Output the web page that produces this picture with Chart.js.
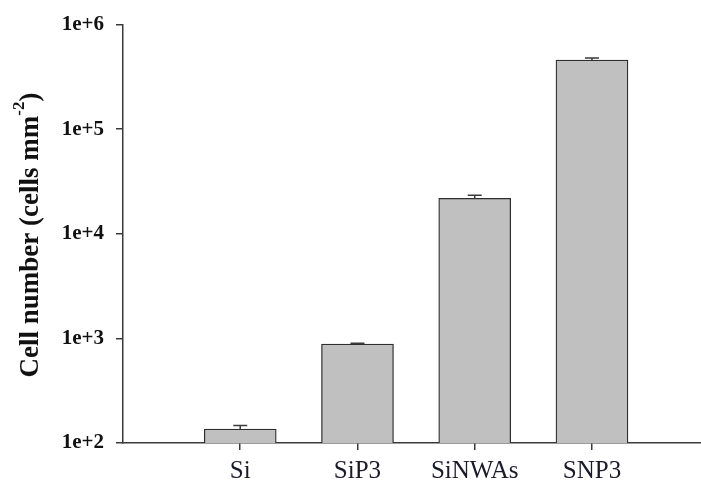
<!DOCTYPE html>
<html>
<head>
<meta charset="utf-8">
<script src="https://cdn.jsdelivr.net/npm/chart.js@4/dist/chart.umd.min.js"></script>
<style>
  html, body { margin: 0; padding: 0; background: #fff; overflow: hidden; }
  #box { width: 701px; height: 482px; position: relative; }
</style>
</head>
<body>
<div id="box"><canvas id="grafico"></canvas></div>
<script>
// dados (escala log)
const categorias = ["Si", "SiP3", "SiNWAs", "SNP3"];
const posicoes   = [1, 2, 3, 4];
const valores    = [136, 883, 21800, 459000];
const erros      = [11, 18, 1500, 21000];   // barra de erro superior
const ticksY     = [1e2, 1e3, 1e4, 1e5, 1e6];

const COR_EIXO = "#3a3a3a";

// barras de erro desenhadas por cima das barras
const pluginErros = {
  id: "erros",
  afterDatasetsDraw(chart) {
    const ctx = chart.ctx;
    const meta = chart.getDatasetMeta(0);
    const y = chart.scales.y;
    ctx.save();
    ctx.strokeStyle = COR_EIXO;
    ctx.lineWidth = 1.5;
    meta.data.forEach((barra, i) => {
      const topo = y.getPixelForValue(valores[i]);
      const fim  = y.getPixelForValue(valores[i] + erros[i]);
      ctx.beginPath();
      ctx.moveTo(barra.x, topo);
      ctx.lineTo(barra.x, fim);
      ctx.moveTo(barra.x - 7, fim);
      ctx.lineTo(barra.x + 7, fim);
      ctx.stroke();
    });
    ctx.restore();
  }
};

// título do eixo Y com expoente sobrescrito
const pluginTitulo = {
  id: "tituloY",
  afterDraw(chart) {
    const ctx = chart.ctx;
    const partes = [
      { t: "Cell number (cells mm", f: "bold 27px 'Liberation Serif'", dy: 0 },
      { t: "-2", f: "bold 17px 'Liberation Serif'", dy: -11 },
      { t: ")", f: "bold 27px 'Liberation Serif'", dy: 0 },
    ];
    ctx.save();
    let total = 0;
    partes.forEach(p => { ctx.font = p.f; p.w = ctx.measureText(p.t).width; total += p.w; });
    ctx.translate(31, 235);
    ctx.rotate(-Math.PI / 2);
    ctx.fillStyle = "#111";
    ctx.textBaseline = "middle";
    let x = -total / 2;
    partes.forEach(p => {
      ctx.font = p.f;
      ctx.fillText(p.t, x, p.dy);
      x += p.w;
    });
    ctx.restore();
  }
};

new Chart(document.getElementById("grafico"), {
  type: "bar",
  data: {
    datasets: [{
      data: valores.map((v, i) => ({ x: posicoes[i], y: v })),
      backgroundColor: "#c0c0c0",
      borderColor: "#2e2e2e",
      borderWidth: 1.3,
      borderSkipped: "bottom",
      barThickness: 72,
    }]
  },
  options: {
    responsive: true,
    maintainAspectRatio: false,
    animation: false,
    layout: { padding: { top: 20, right: 0, left: 0, bottom: 0 } },
    plugins: {
      legend: { display: false },
      tooltip: { enabled: false },
    },
    scales: {
      x: {
        type: "linear",
        offset: false,
        min: 0,
        max: 4.93,
        afterBuildTicks: (s) => { s.ticks = posicoes.map(v => ({ value: v })); },
        afterFit: (s) => { s.height = 39; },
        ticks: {
          color: "#1a1a2a",
          padding: 6,
          maxRotation: 0,
          font: { family: "'Liberation Serif'", size: 25 },
          callback: (v) => categorias[posicoes.indexOf(v)] ?? "",
        },
        grid: { drawOnChartArea: false, offset: false, tickLength: 7, color: COR_EIXO, lineWidth: 1.5 },
        border: { display: true, color: COR_EIXO, width: 1.5 },
      },
      y: {
        type: "logarithmic",
        min: 1e2,
        max: 1e6,
        afterBuildTicks: (s) => { s.ticks = ticksY.map(v => ({ value: v })); },
        afterFit: (s) => { s.width = 123; },
        ticks: {
          color: "#111",
          padding: 12,
          font: { family: "'Liberation Serif'", size: 21, weight: "bold" },
          callback: (v) => Number(v).toExponential(0),
        },
        grid: { drawOnChartArea: false, tickLength: 7, color: COR_EIXO, lineWidth: 1.5 },
        border: { display: true, color: COR_EIXO, width: 1.5 },
      },
    },
  },
  plugins: [pluginErros, pluginTitulo],
});
</script>
</body>
</html>
